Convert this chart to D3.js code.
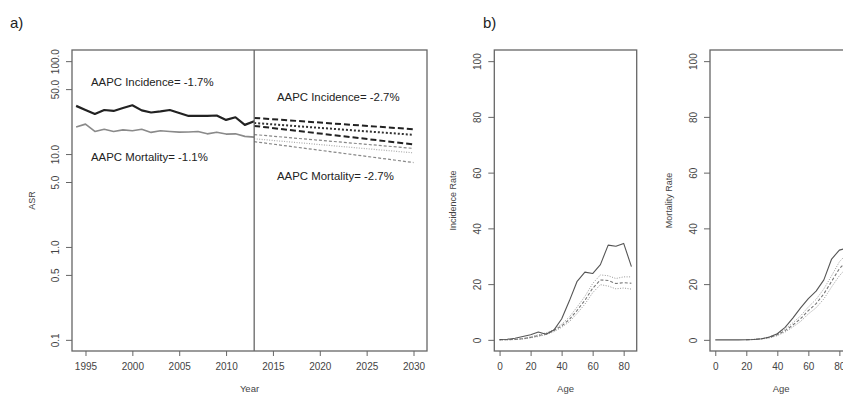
<!DOCTYPE html>
<html>
<head>
<meta charset="utf-8">
<script src="https://cdn.jsdelivr.net/npm/d3@7"></script>
<style>
  body { margin: 0; background: #fff; }
  svg { display: block; font-family: "Liberation Sans", Arial, sans-serif; }
  .tick text { fill: #444; font-size: 10px; }
  .tick line { stroke: #666; }
</style>
</head>
<body>
<div id="chart"></div>
<script>
// ---- panel a: ASR by year (log scale)
const obsYears = [1994, 1995, 1996, 1997, 1998, 1999, 2000, 2001, 2002, 2003,
                  2004, 2005, 2006, 2007, 2008, 2009, 2010, 2011, 2012, 2013];
const incObs  = [33.0, 29.8, 27.0, 29.8, 29.1, 31.3, 33.5, 29.5, 28.0, 28.8,
                 29.8, 27.7, 25.7, 25.7, 25.7, 26.0, 23.3, 24.9, 20.6, 22.5];
const mortObs = [19.5, 21.0, 17.5, 18.5, 17.5, 18.2, 17.8, 18.5, 17.1, 17.8,
                 17.5, 17.2, 17.3, 17.5, 16.5, 17.2, 16.4, 16.5, 15.5, 15.2];
const projYears   = [2013, 2030];
const incProjHi   = [24.5, 18.5];
const incProjMid  = [21.6, 16.1];
const incProjLo   = [20.1, 12.7];
const mortProjHi  = [16.2, 11.5];
const mortProjMid = [14.6, 10.3];
const mortProjLo  = [13.6, 8.1];
const yearTicks = [1995, 2000, 2005, 2010, 2015, 2020, 2025, 2030];
const asrTicks  = [0.1, 0.5, 1, 5, 10, 50, 100];

// ---- panel b: rates by age
const ages = [0, 5, 10, 15, 20, 25, 30, 35, 40, 45, 50, 55, 60, 65, 70, 75, 80, 85];
const incAge    = [0.1, 0.2, 0.6, 1.2, 1.8, 2.8, 2.0, 3.5, 7.5, 14.0, 21.0, 24.3, 23.8, 27.0, 34.0, 33.6, 34.6, 26.3];
const incAgeHi  = [0, 0.1, 0.2, 0.5, 1.1, 1.8, 2.5, 3.7, 5.6, 8.2, 11.8, 15.6, 20.2, 23.3, 23.0, 22.0, 22.6, 22.6];
const incAgeMid = [0, 0.05, 0.15, 0.4, 0.9, 1.5, 2.2, 3.3, 5.0, 7.3, 10.6, 14.2, 18.5, 21.5, 21.3, 20.2, 20.5, 20.3];
const incAgeLo  = [0, 0.03, 0.1, 0.3, 0.7, 1.2, 1.9, 2.9, 4.5, 6.5, 9.5, 12.8, 16.9, 19.8, 19.3, 18.3, 18.6, 18.2];
const mortAge    = [0, 0, 0, 0, 0.05, 0.1, 0.4, 1.0, 2.2, 4.5, 7.8, 11.5, 14.8, 17.5, 21.5, 29.0, 32.2, 33.0];
const projAges   = [20, 25, 30, 35, 40, 45, 50, 55, 60, 65, 70, 75, 80, 85];
const mortAgeHi  = [0.07, 0.2, 0.5, 1.1, 2.1, 3.8, 6.1, 8.6, 11.8, 14.5, 18.3, 23.0, 28.0, 31.0];
const mortAgeMid = [0.05, 0.15, 0.4, 0.9, 1.8, 3.3, 5.3, 7.6, 10.5, 13.0, 16.5, 21.0, 25.5, 28.5];
const mortAgeLo  = [0.03, 0.1, 0.3, 0.7, 1.5, 2.8, 4.6, 6.6, 9.3, 11.5, 14.7, 19.0, 23.0, 26.0];
const ageTicks  = [0, 20, 40, 60, 80];
const rateTicks = [0, 20, 40, 60, 80, 100];

const W = 843, H = 394;
const plotTop = 50, plotBottom = 351;
const frame = "#666";

const svg = d3.select("#chart").append("svg").attr("width", W).attr("height", H);

function zip(xs, ys) { return xs.map((x, i) => [x, ys[i]]); }

function drawLine(g, x, y, pts, color, width, dash) {
  g.append("path")
    .datum(pts)
    .attr("fill", "none")
    .attr("stroke", color)
    .attr("stroke-width", width)
    .attr("stroke-dasharray", dash || null)
    .attr("stroke-linejoin", "round")
    .attr("d", d3.line().x(d => x(d[0])).y(d => y(d[1])));
}

function box(g, x0, x1) {
  g.append("rect").attr("x", x0).attr("y", plotTop).attr("width", x1 - x0).attr("height", plotBottom - plotTop)
    .attr("fill", "none").attr("stroke", frame).attr("stroke-width", 1.3);
}

function xAxis(g, x, ticks, fmt) {
  const a = g.append("g").attr("transform", `translate(0,${plotBottom})`)
    .call(d3.axisBottom(x).tickValues(ticks).tickFormat(fmt).tickSize(5));
  a.select(".domain").remove();
  a.selectAll(".tick text").attr("y", 12);
}

function yAxis(g, y, ticks, fmt, x0) {
  const a = g.append("g").attr("transform", `translate(${x0},0)`)
    .call(d3.axisLeft(y).tickValues(ticks).tickFormat(fmt).tickSize(6));
  a.select(".domain").remove();
  a.selectAll(".tick text")
    .attr("x", null).attr("dy", null)
    .attr("text-anchor", "middle")
    .attr("transform", "translate(-13,0) rotate(-90)");
}

function label(txt, x, y, rot, size) {
  svg.append("text").attr("transform", `translate(${x},${y})` + (rot ? " rotate(-90)" : ""))
    .attr("text-anchor", "middle").attr("fill", "#444").attr("font-size", size || 9.5).text(txt);
}

// ---------- panel a
const gA = svg.append("g");
const xA = d3.scaleLinear().domain([1993.56, 2031.44]).range([72, 427]);
const yA = d3.scaleLog().domain([Math.pow(10, -1.12), Math.pow(10, 2.12)]).range([plotBottom, plotTop]);

drawLine(gA, xA, yA, zip(obsYears, mortObs), "#8a8a8a", 1.6);
drawLine(gA, xA, yA, zip(obsYears, incObs), "#222", 2.2);

drawLine(gA, xA, yA, zip(projYears, mortProjHi), "#888", 1.2, "3,2");
drawLine(gA, xA, yA, zip(projYears, mortProjMid), "#aaa", 1.2, "1,1.5");
drawLine(gA, xA, yA, zip(projYears, mortProjLo), "#888", 1.2, "3,2");
drawLine(gA, xA, yA, zip(projYears, incProjHi), "#222", 2, "6,3");
drawLine(gA, xA, yA, zip(projYears, incProjMid), "#333", 2, "2,2");
drawLine(gA, xA, yA, zip(projYears, incProjLo), "#222", 2, "6,3");

gA.append("line").attr("x1", xA(2013)).attr("x2", xA(2013)).attr("y1", plotTop).attr("y2", plotBottom)
  .attr("stroke", frame).attr("stroke-width", 1.3);
box(gA, 72, 427);
xAxis(gA, xA, yearTicks, d3.format("d"));
yAxis(gA, yA, asrTicks, d3.format(".1f"), 72);

const note = (t, x, y) => gA.append("text").attr("x", x).attr("y", y).attr("fill", "#222")
  .attr("font-size", 11.4).text(t);
note("AAPC Incidence= -1.7%", 91, 86);
note("AAPC Mortality= -1.1%", 91, 161);
note("AAPC Incidence= -2.7%", 277, 101);
note("AAPC Mortality= -2.7%", 277, 180);

label("ASR", 35, (plotTop + plotBottom) / 2, true, 9);
label("Year", 249.5, 392);
svg.append("text").attr("x", 10).attr("y", 28).attr("font-size", 15).attr("fill", "#222").text("a)");

// ---------- panel b
const yB = d3.scaleLinear().domain([-4, 104]).range([plotBottom, plotTop]);
const panels = [
  { x0: 494.3, title: "Incidence Rate", obs: zip(ages, incAge),
    hi: zip(ages, incAgeHi), mid: zip(ages, incAgeMid), lo: zip(ages, incAgeLo) },
  { x0: 710, title: "Mortality Rate", obs: zip(ages, mortAge),
    hi: zip(projAges, mortAgeHi), mid: zip(projAges, mortAgeMid), lo: zip(projAges, mortAgeLo) }
];
panels.forEach(p => {
  const x1 = p.x0 + 142.4;
  const g = svg.append("g");
  const x = d3.scaleLinear().domain([-3.4, 88.4]).range([p.x0, x1]);
  drawLine(g, x, yB, p.hi, "#999", 1, "1,1.5");
  drawLine(g, x, yB, p.lo, "#999", 1, "1,1.5");
  drawLine(g, x, yB, p.mid, "#777", 1.1, "3,2");
  drawLine(g, x, yB, p.obs, "#555", 1.1);
  box(g, p.x0, x1);
  xAxis(g, x, ageTicks, d3.format("d"));
  yAxis(g, yB, rateTicks, d3.format("d"), p.x0);
  label(p.title, p.x0 - 38, (plotTop + plotBottom) / 2, true, 9);
  label("Age", (p.x0 + x1) / 2, 392);
});
svg.append("text").attr("x", 483).attr("y", 28).attr("font-size", 15).attr("fill", "#222").text("b)");
</script>
</body>
</html>
